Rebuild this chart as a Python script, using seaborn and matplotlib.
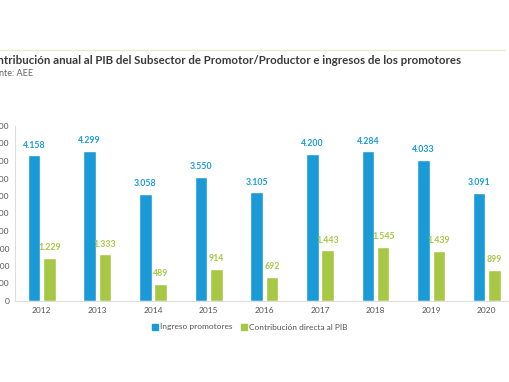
import pandas as pd
import matplotlib.pyplot as plt
import seaborn as sns
from matplotlib.lines import Line2D
from matplotlib.patches import Patch

# Data
years = ['2012', '2013', '2014', '2015', '2016', '2017', '2018', '2019', '2020']
ingreso = [4158, 4299, 3058, 3550, 3105, 4200, 4284, 4033, 3091]
contribucion = [1229, 1333, 489, 914, 692, 1443, 1545, 1439, 899]
series = ['Ingreso promotores', 'Contribución directa al PIB']
colors = ['#1b9ad8', '#a7c845']

df = pd.DataFrame({
    'Año': years * 2,
    'Valor': ingreso + contribucion,
    'Serie': [series[0]] * len(years) + [series[1]] * len(years),
})

sns.set_style('white')
plt.rcParams['font.family'] = ['Lato', 'DejaVu Sans']

fig = plt.figure(figsize=(5.1, 3.82), dpi=100)
ax = fig.add_axes([15 / 510, 81 / 382, 1 - 15 / 510 + 0.02, 175 / 382])

sns.barplot(data=df, x='Año', y='Valor', hue='Serie', palette=colors,
            width=0.55, gap=0.18, saturation=1, ax=ax, legend=False)

def fmt(v):
    return f'{v:,.0f}'.replace(',', '.')

for cont, col in zip(ax.containers, colors):
    ax.bar_label(cont, labels=[fmt(b.get_height()) for b in cont], padding=4,
                 fontsize=6.3, color=col, fontweight='bold')

ax.set_ylim(0, 5000)
ax.set_xlim(-0.48, 8.6)
ax.set_yticks(range(0, 5001, 500))
ax.set_yticklabels([fmt(v) for v in range(0, 5001, 500)])
ax.set_xlabel('')
ax.set_ylabel('')
ax.tick_params(axis='both', labelsize=6, colors='#555555', length=0, pad=4)
for s in ['top', 'right']:
    ax.spines[s].set_visible(False)
for s in ['left', 'bottom']:
    ax.spines[s].set_color('#dddddd')
    ax.spines[s].set_linewidth(0.8)

# header
fig.add_artist(Line2D([0, 0.99], [1 - 50 / 382] * 2, color='#e8eccb', lw=1))
fig.text(-17 / 510, 1 - 61 / 382, 'Contribución anual al PIB del Subsector de Promotor/Productor e ingresos de los promotores',
         fontsize=8.3, fontweight='bold', color='#3a3a3a', va='center')
fig.text(-16 / 510, 1 - 74 / 382, 'Fuente: AEE', fontsize=6.5, color='#666666', va='center')

handles = [Patch(color=c) for c in colors]
fig.legend(handles, series, loc='center', bbox_to_anchor=(250 / 510, 1 - 327 / 382),
           ncol=2, frameon=False, fontsize=6, handlelength=0.7, handleheight=0.7,
           handletextpad=0.3, columnspacing=1.0, labelcolor='#555555')

fig.savefig('out.png', dpi=100)
